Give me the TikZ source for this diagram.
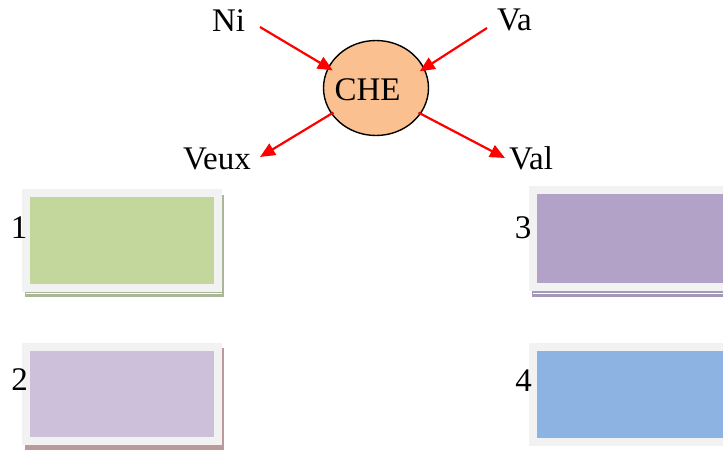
\documentclass[tikz,border=0pt]{standalone}
\usepackage{fontspec}
\setmainfont{Liberation Serif}
\usetikzlibrary{shapes.geometric,arrows.meta}
\definecolor{cheFill}{HTML}{FAC090}
\definecolor{frameGray}{HTML}{F2F2F2}
\definecolor{fillA}{HTML}{C3D69B}
\definecolor{fillB}{HTML}{CCC0DA}
\definecolor{fillC}{HTML}{B2A2C7}
\definecolor{fillD}{HTML}{8DB3E2}
\definecolor{shadA}{HTML}{A9B698}
\definecolor{shadB}{HTML}{BC9A9C}
\definecolor{shadC}{HTML}{A497B8}
\definecolor{shadD}{HTML}{8FA8C8}
\begin{document}
\begin{tikzpicture}[x=1pt,y=-1pt,
  every node/.style={font=\fontsize{33pt}{38pt}\selectfont, inner sep=0pt, outer sep=0pt},
  redarrow/.style={draw=red, line width=2.2pt, -{Triangle[length=15pt,width=13pt]}},
  boxnode/.style={draw=frameGray, line width=8pt, rectangle},
  lbl/.style={anchor=base west},
  num/.style={anchor=base}
]
\useasboundingbox (0,0) rectangle (723,450);
\clip (0,0) rectangle (723,450);

% shadows
\fill[shadA] (25,195) rectangle (224,297);
\fill[shadB] (25,348) rectangle (224,450);
\fill[shadC] (532,192) rectangle (760,297);
\fill[shadD] (532,348) rectangle (760,443);

% boxes
\node[boxnode, fill=fillA, minimum width=192pt, minimum height=95pt] (b1) at (122,240.5) {};
\node[boxnode, fill=fillB, minimum width=192pt, minimum height=94pt] (b2) at (122,393.5) {};
\node[boxnode, fill=fillC, minimum width=227pt, minimum height=97pt] (b3) at (646.5,238.5) {};
\node[boxnode, fill=fillD, minimum width=227pt, minimum height=95pt] (b4) at (646.5,394) {};

\draw[white, line width=0.8pt] (26,293.5) -- (222,293.5);
\draw[white, line width=0.8pt] (533,293.5) -- (760,293.5);

% numbers
\node[num] (n1) at (19,238) {1};
\node[num] (n2) at (19.5,390) {2};
\node[num] (n3) at (523,238) {3};
\node[num] (n4) at (523.5,391) {4};

% central ellipse
\node[ellipse, draw=black, line width=1.4pt, fill=cheFill, minimum width=105pt, minimum height=95pt] (CHE) at (376,88) {};
\node[anchor=base] (cheText) at (367.5,100) {CHE};

% labels
\node[lbl] (Ni) at (212,31) {Ni};
\node[lbl] (Va) at (497,30) {Va};
\node[lbl] (Veux) at (183,169) {Veux};
\node[lbl] (Val) at (509,169) {Val};

\coordinate (niT) at (260,27);
\coordinate (vaT) at (487,28);
\coordinate (veuxT) at (260,157);
\coordinate (valT) at (505,158);

\draw[redarrow, shorten >=-5pt] (niT) -- (CHE.157);
\draw[redarrow, shorten >=-5pt] (vaT) -- (CHE.22);
\draw[redarrow, shorten <=-2pt] (CHE.210) -- (veuxT);
\draw[redarrow, shorten <=-2pt] (CHE.330) -- (valT);
\end{tikzpicture}
\end{document}
